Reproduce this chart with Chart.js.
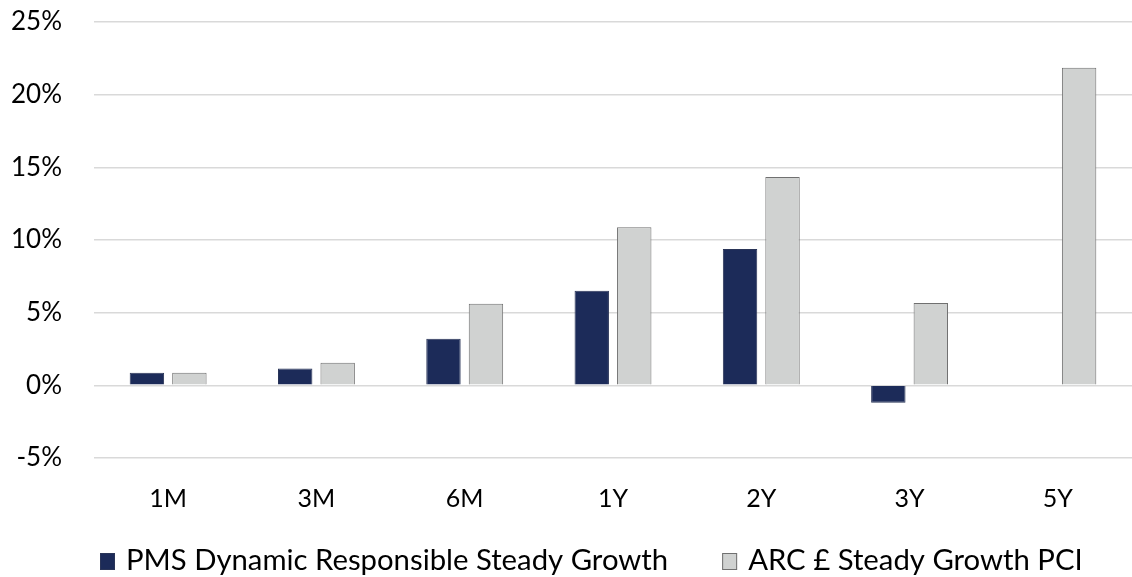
<!DOCTYPE html>
<html lang="en">
<head>
    <meta charset="UTF-8">
    <title>Performance vs ARC Steady Growth</title>
    <script src="https://cdn.jsdelivr.net/npm/chart.js"></script>
    <style>
        body {
            margin: 0;
            background-color: #ffffff;
        }
        .chart-container {
            position: relative;
            width: 1132px;
            height: 577px;
        }
    </style>
</head>
<body>
    <div class="chart-container">
        <canvas id="perfChart"></canvas>
    </div>

    <script>
        // Data
        const periods = ['1M', '3M', '6M', '1Y', '2Y', '3Y', '5Y'];
        const pmsReturns = [0.87, 1.15, 3.21, 6.51, 9.38, -1.19, null];
        const arcReturns = [0.87, 1.56, 5.62, 10.87, 14.33, 5.66, 21.85];
        const yTicks = [-5, 0, 5, 10, 15, 20, 25];

        const fontFamily = "Lato, 'Open Sans', sans-serif";

        // Legend drawn by hand so the item spacing can be set independently
        // of the vertical space it takes up
        const bottomLegend = {
            id: 'bottomLegend',
            afterDraw(chart, args, opts) {
                const ctx = chart.ctx;
                ctx.save();
                ctx.font = opts.font;
                ctx.textBaseline = 'middle';
                ctx.textAlign = 'left';
                let x = opts.x;
                chart.data.datasets.forEach(ds => {
                    const top = Math.round(opts.y - opts.boxHeight / 2);
                    ctx.fillStyle = ds.backgroundColor;
                    ctx.fillRect(x, top, opts.boxWidth, opts.boxHeight);
                    ctx.strokeStyle = ds.borderColor;
                    ctx.lineWidth = 1;
                    ctx.strokeRect(x + 0.5, top + 0.5, opts.boxWidth - 1, opts.boxHeight - 1);
                    ctx.fillStyle = '#000000';
                    ctx.fillText(ds.label, x + opts.boxWidth + opts.textGap, opts.y);
                    x += opts.boxWidth + opts.textGap + ctx.measureText(ds.label).width + opts.itemGap;
                });
                ctx.restore();
            }
        };

        const ctx = document.getElementById('perfChart').getContext('2d');

        new Chart(ctx, {
            type: 'bar',
            data: {
                labels: periods,
                datasets: [{
                    label: 'PMS Dynamic Responsible Steady Growth',
                    data: pmsReturns,
                    backgroundColor: '#1c2b59',
                    borderColor: '#2a3558',
                    borderWidth: 1
                }, {
                    label: 'ARC £ Steady Growth PCI',
                    data: arcReturns,
                    backgroundColor: '#d0d2d1',
                    borderColor: '#707070',
                    borderWidth: 1
                }]
            },
            plugins: [bottomLegend],
            options: {
                responsive: true,
                maintainAspectRatio: false,
                animation: false,
                categoryPercentage: 0.573,
                barPercentage: 0.81,
                layout: {
                    padding: { top: 22, right: 0, left: 0, bottom: 45 }
                },
                plugins: {
                    tooltip: { enabled: false },
                    legend: { display: false },
                    bottomLegend: {
                        font: "29.3px " + fontFamily,
                        x: 100,
                        y: 561,
                        boxWidth: 15,
                        boxHeight: 17,
                        textGap: 11,
                        itemGap: 54
                    }
                },
                scales: {
                    x: {
                        grid: { display: false },
                        border: { display: false },
                        ticks: {
                            color: '#000000',
                            font: { family: fontFamily, size: 25 },
                            padding: 18
                        }
                    },
                    y: {
                        min: -5,
                        max: 25,
                        afterBuildTicks: function(scale) {
                            scale.ticks = yTicks.map(v => ({ value: v }));
                        },
                        afterFit: function(scale) {
                            scale.width = 94;
                            // the wide tick padding is only meant to push labels left
                            scale.paddingTop = 0;
                            scale.paddingBottom = 0;
                        },
                        grid: {
                            color: '#d9d9d9',
                            lineWidth: 1.5,
                            drawTicks: false
                        },
                        border: { display: false },
                        ticks: {
                            color: '#000000',
                            font: { family: fontFamily, size: 26 },
                            padding: 32,
                            callback: function(value) {
                                return value + '%';
                            }
                        }
                    }
                }
            }
        });
    </script>
</body>
</html>
